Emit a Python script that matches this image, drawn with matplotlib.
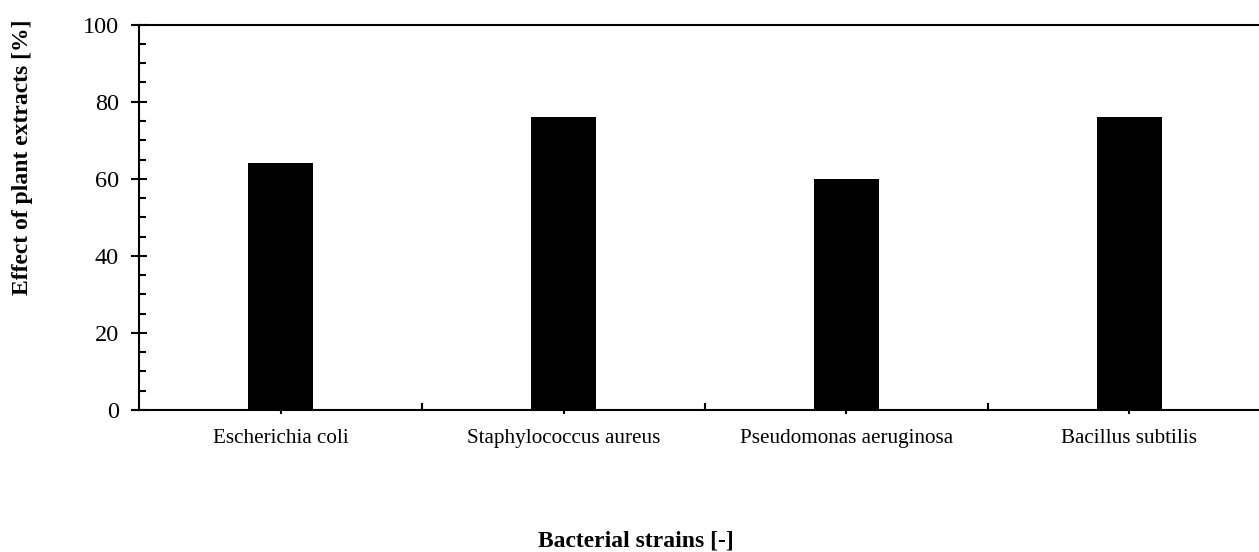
import matplotlib.pyplot as plt
from matplotlib.ticker import MultipleLocator, FixedLocator

strains = ['Escherichia coli', 'Staphylococcus aureus', 'Pseudomonas aeruginosa', 'Bacillus subtilis']
effect = [64, 76, 60, 76]

plt.rcParams['font.family'] = 'Liberation Serif'

fig = plt.figure(figsize=(12.59, 5.52), dpi=100)
ax = fig.add_axes([139 / 1259, 142 / 552, 1132 / 1259, 385.3 / 552])

x = list(range(len(strains)))
ax.bar(x, effect, width=0.23, color='black', zorder=3)

ax.set_xlim(-0.5, len(strains) - 0.5)
ax.set_ylim(0, 100)

ax.set_xticks(x)
ax.set_xticklabels(strains, fontsize=15.2)
ax.xaxis.set_minor_locator(FixedLocator([i + 0.5 for i in x[:-1]]))
ax.tick_params(axis='x', which='major', direction='out', length=3, width=1.5, pad=10.5)
ax.tick_params(axis='x', which='minor', direction='in', length=5, width=1.5)

ax.yaxis.set_major_locator(MultipleLocator(20))
ax.yaxis.set_minor_locator(MultipleLocator(5))
ax.tick_params(axis='y', which='major', direction='inout', length=11, width=1.5, labelsize=17.5, pad=9)
ax.tick_params(axis='y', which='minor', direction='in', length=5, width=1.5)

for side in ['left', 'bottom', 'top']:
    ax.spines[side].set_linewidth(1.5)
ax.spines['right'].set_visible(False)

fig.text(23 / 1259, (552 - 157) / 552, 'Effect of plant extracts [%]', rotation=90,
         ha='center', va='center', fontsize=17, fontweight='bold')
fig.text(636 / 1259, (552 - 541) / 552, 'Bacterial strains [-]',
         ha='center', va='center', fontsize=17, fontweight='bold')

fig.savefig('out.png', dpi=100)
